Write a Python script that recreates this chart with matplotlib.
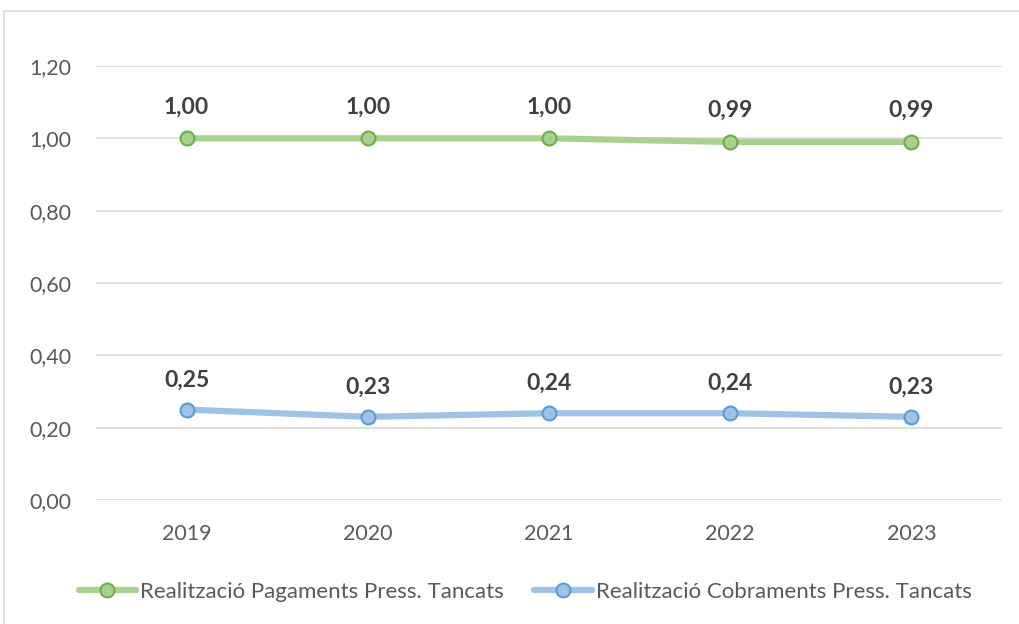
import matplotlib
matplotlib.use("Agg")
import matplotlib.pyplot as plt
from matplotlib.patches import Rectangle

years = ["2019", "2020", "2021", "2022", "2023"]
pagaments = [1.00, 1.00, 1.00, 0.99, 0.99]
cobraments = [0.25, 0.23, 0.24, 0.24, 0.23]
yticks = [0.0, 0.2, 0.4, 0.6, 0.8, 1.0, 1.2]
name_pag = "Realització Pagaments Press. Tancats"
name_cob = "Realització Cobraments Press. Tancats"

plt.rcParams['font.family'] = ['Lato', 'DejaVu Sans']

W, H = 1019, 624
fig = plt.figure(figsize=(W/100, H/100), dpi=100)
ax = fig.add_axes([96/W, 1-500/H, (1002-96)/W, (500-66)/H])

# chart border
fig.patches.append(Rectangle((4/W, -0.01), 1.02, 1-11/H+0.01, transform=fig.transFigure,
                             fill=False, edgecolor='#D9D9D9', linewidth=1.2))

x = list(range(len(years)))
ax.plot(x, pagaments, color='#A9D18E', linewidth=4.5, marker='o', markersize=10,
        markerfacecolor='#A9D18E', markeredgecolor='#70AD47', markeredgewidth=1.5,
        label=name_pag, zorder=3, solid_capstyle='round')
ax.plot(x, cobraments, color='#9DC3E6', linewidth=4.5, marker='o', markersize=10,
        markerfacecolor='#9DC3E6', markeredgecolor='#5B9BD5', markeredgewidth=1.5,
        label=name_cob, zorder=3, solid_capstyle='round')

for xi, v in zip(x, pagaments):
    ax.annotate(f"{v:.2f}".replace('.', ','), (xi, v), xytext=(0, 22.5), textcoords='offset points',
                ha='center', va='center', fontsize=16.5, fontweight='bold', color='#404040')
for xi, v in zip(x, cobraments):
    ax.annotate(f"{v:.2f}".replace('.', ','), (xi, v), xytext=(0, 21.5), textcoords='offset points',
                ha='center', va='center', fontsize=16.5, fontweight='bold', color='#404040')

ax.set_xlim(-0.5, len(years)-0.5)
ax.set_ylim(0, 1.2)
ax.set_yticks(yticks)
ax.set_yticklabels([f"{t:.2f}".replace('.', ',') for t in yticks])
ax.set_xticks(x)
ax.set_xticklabels(years)
ax.tick_params(axis='both', length=0, labelsize=15.5, colors='#595959')
ax.tick_params(axis='y', pad=18)
ax.tick_params(axis='x', pad=17)
ax.grid(axis='y', color='#D9D9D9', linewidth=1.2)
ax.set_axisbelow(True)
for s in ax.spines.values():
    s.set_visible(False)

leg = fig.legend(loc='center', bbox_to_anchor=(525/W, 1-592/H), ncol=2, frameon=False,
                 fontsize=16, handlelength=2.6, columnspacing=1.4, handletextpad=0.15)
for t in leg.get_texts():
    t.set_color('#595959')

fig.savefig('out.png', dpi=100)
